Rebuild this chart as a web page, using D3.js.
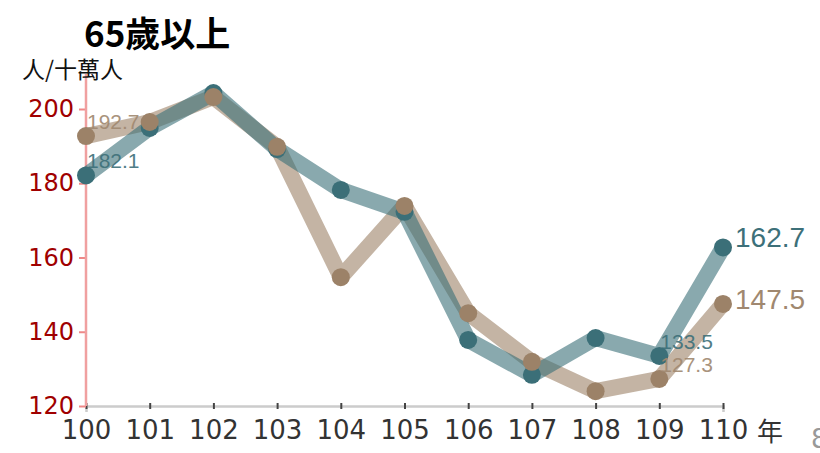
<!DOCTYPE html>
<html><head><meta charset="utf-8">
<script src="https://cdn.jsdelivr.net/npm/d3@7"></script>
<style>
body{margin:0;background:#fff;}
svg{display:block;}
</style></head>
<body>
<svg id="chart" width="820" height="453"></svg>
<script>
const years = [100,101,102,103,104,105,106,107,108,109,110];
const seriesA = [182.1,194.9,204.3,189.2,178.2,172.3,137.8,128.4,138.3,133.5,162.7];
const seriesB = [192.7,196.5,203.2,189.8,154.7,173.9,145.0,131.9,124.0,127.3,147.5];
const yTicks = [120,140,160,180,200];
const title = "65歲以上";
const unitLabel = "人/十萬人";
const xUnit = "年";

const svg = d3.select("#chart");
const x = d3.scaleLinear().domain([100,110]).range([86,723]);
const y = d3.scaleLinear().domain([120,200]).range([406,109]);

// x axis
const xa = svg.append("g").attr("transform","translate(0,406)")
  .call(d3.axisBottom(x).tickValues(years).tickFormat(d3.format("d")).tickSize(6).tickPadding(9));
xa.select(".domain").attr("stroke","#ccc").attr("stroke-width",2.5);
xa.selectAll(".tick line").attr("stroke","#444").attr("stroke-width",2).attr("transform","translate(0,-3)");
xa.selectAll(".tick text").attr("fill","#333").style("font-family","'DejaVu Sans',sans-serif").style("font-size","26px");
svg.append("text").attr("x",757).attr("y",441).attr("fill","#333")
  .style("font-family","'Noto Sans CJK TC',sans-serif").style("font-size","26px").text(xUnit);
svg.append("text").attr("x",811).attr("y",448).attr("fill","#999")
  .style("font-family","'DejaVu Sans',sans-serif").style("font-size","26px").text("8");

// y axis
const ya = svg.append("g").attr("transform","translate(86,0)")
  .call(d3.axisLeft(y).tickValues(yTicks).tickSize(7).tickPadding(5));
ya.select(".domain").remove();
ya.selectAll(".tick line").attr("stroke","#e88").attr("stroke-width",2);
ya.selectAll(".tick text").attr("fill","#a00000").style("font-family","'DejaVu Sans',sans-serif").style("font-size","24px");
svg.append("line").attr("x1",86).attr("x2",86).attr("y1",74).attr("y2",406)
  .attr("stroke","#f0a0a0").attr("stroke-width",2.5);

// titles
svg.append("text").attr("x",84).attr("y",47).attr("fill","#000")
  .style("font-family","'Noto Sans CJK TC',sans-serif").style("font-weight","bold").style("font-size","35px").text(title);
svg.append("text").attr("x",22).attr("y",78).attr("fill","#111")
  .style("font-family","'Noto Sans CJK TC',sans-serif").style("font-size","23px").text(unitLabel);

const line = d3.line().x((d,i)=>x(years[i])).y(d=>y(d));

const series = [
  {vals:seriesB, dot:"#9c8268", text:"#a08870", endDy:5},
  {vals:seriesA, dot:"#3b6f78", text:"#3d7079", endDy:0}
];
series.forEach(s=>{
  svg.append("path").attr("d",line(s.vals)).attr("fill","none")
    .attr("stroke",s.dot).attr("stroke-opacity",0.6).attr("stroke-width",16)
    .attr("stroke-linejoin","round");
});
[series[1],series[0]].forEach(s=>{
  svg.append("g").selectAll("circle").data(s.vals).join("circle")
    .attr("cx",(d,i)=>x(years[i])).attr("cy",d=>y(d)).attr("r",9).attr("fill",s.dot);
});
series.forEach(s=>{
  const g = svg.append("g").style("font-family","'Liberation Sans',Arial,sans-serif").attr("fill",s.text);
  [0,9].forEach(i=>{
    g.append("text").attr("x",x(years[i])+1).attr("y",y(s.vals[i])-7)
      .style("font-size","21px").attr("opacity",0.9).text(d3.format(".1f")(s.vals[i]));
  });
  const n = s.vals.length-1;
  g.append("text").attr("x",x(years[n])+12).attr("y",y(s.vals[n])+s.endDy)
    .style("font-size","28px").text(d3.format(".1f")(s.vals[n]));
});
</script>
</body></html>
